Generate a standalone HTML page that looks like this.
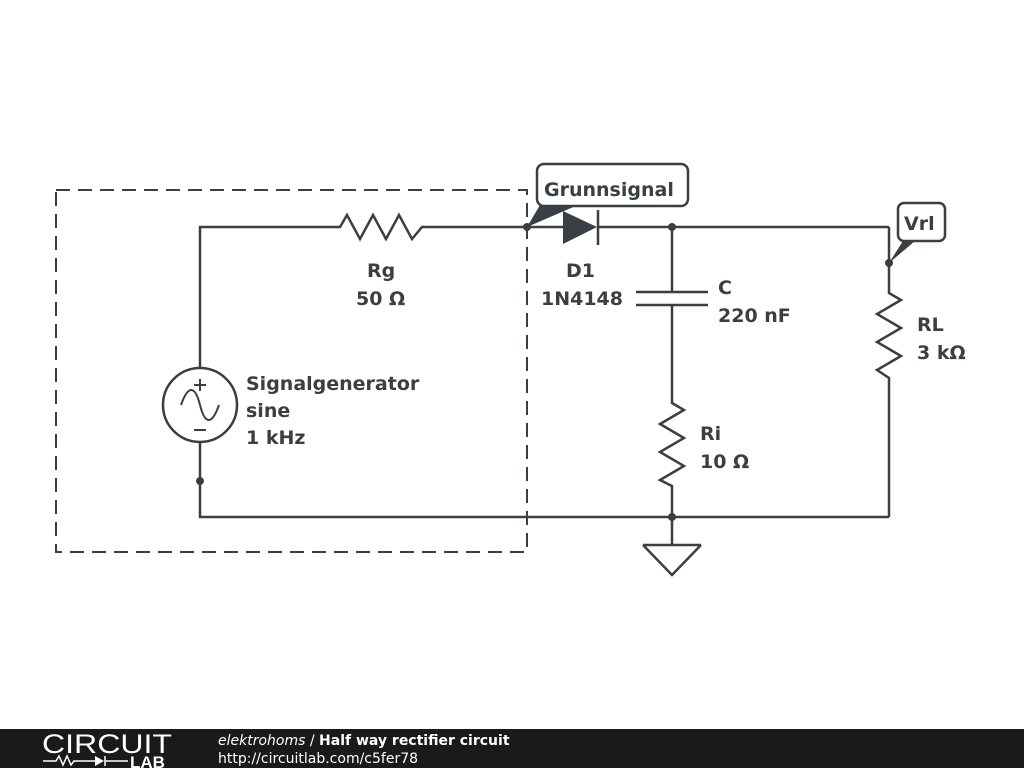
<!DOCTYPE html>
<html><head><meta charset="utf-8"><style>
body{margin:0;width:1024px;height:768px;background:#fff;overflow:hidden;font-family:"DejaVu Sans","Liberation Sans",sans-serif}
</style></head><body>
<svg width="1024" height="768" viewBox="0 0 1024 768" xmlns="http://www.w3.org/2000/svg">
<g stroke="#3a3f44" stroke-width="2.5" fill="none" stroke-linejoin="miter">
<rect x="56" y="190" width="471" height="362" stroke-dasharray="14,8" stroke-width="2"/>
<polyline points="200,368 200,227 340,227 347,215 360,239 373,215 386,239 399,215 412,239 422,227 563,227"/>
<line x1="598" y1="227" x2="889" y2="227"/>
<line x1="598" y1="210" x2="598" y2="245"/>
<polyline points="200,442 200,517 889,517"/>
<polyline points="889,227 889,293 901,300 877,314 901,328 877,342 901,356 877,370 889,378 889,517"/>
<line x1="672" y1="227" x2="672" y2="292"/>
<line x1="636" y1="292" x2="708" y2="292"/>
<line x1="636" y1="305" x2="708" y2="305"/>
<polyline points="672,305 672,403 684,410 660,424 684,438 660,452 684,466 660,480 672,486 672,545"/>
<line x1="643" y1="545" x2="701" y2="545"/>
<polyline points="643,545 672,575 701,545"/>
<circle cx="200" cy="405" r="37"/>
<path d="M181,405 C188,385 195,385 200,405 C205,425 212,425 219,405" stroke-width="2"/>
<line x1="194" y1="385" x2="206" y2="385" stroke-width="2"/><line x1="200" y1="379" x2="200" y2="391" stroke-width="2"/>
<line x1="194" y1="430" x2="206" y2="430" stroke-width="2"/>
<rect x="537" y="164" width="151" height="42" rx="7"/>
<rect x="898" y="203" width="47" height="38" rx="6"/>
</g>
<g fill="#3a3f44">
<polygon points="563,211 597,227 563,244"/>
<polygon points="527,227 540,205 578,205"/>
<polygon points="889,263 903,241 915,241"/>
<circle cx="527" cy="227" r="4"/><circle cx="672" cy="227" r="4"/><circle cx="889" cy="263" r="4"/>
<circle cx="200" cy="481" r="4"/><circle cx="672" cy="517" r="4"/>
</g>
<g fill="#3a3f44" font-weight="bold" font-size="19">
<text x="544" y="196">Grunnsignal</text>
<text x="904" y="230">Vrl</text>
<text x="367" y="277">Rg</text><text x="356" y="305">50 Ω</text>
<text x="566" y="277">D1</text><text x="541" y="305">1N4148</text>
<text x="718" y="294">C</text><text x="718" y="322">220 nF</text>
<text x="917" y="331">RL</text><text x="917" y="359">3 kΩ</text>
<text x="700" y="440">Ri</text><text x="700" y="468">10 Ω</text>
<text x="246" y="390">Signalgenerator</text><text x="246" y="417">sine</text><text x="246" y="444">1 kHz</text>
</g>
<rect x="0" y="729" width="1024" height="39" fill="#1a1a1a"/>
<text x="42" y="753" fill="#fff" font-size="27" font-family="Liberation Sans" textLength="130" lengthAdjust="spacingAndGlyphs">CIRCUIT</text>
<text x="130" y="768" fill="#fff" font-size="17" font-weight="bold" font-family="Liberation Sans">LAB</text>
<polyline points="43,761 56,761 59,756 63,765 67,756 71,765 74,761 95,761" stroke="#fff" stroke-width="1.5" fill="none"/>
<polygon points="95,756 104,761 95,766" fill="#fff"/><line x1="105" y1="756" x2="105" y2="766" stroke="#fff" stroke-width="1.5"/><line x1="105" y1="761" x2="128" y2="761" stroke="#fff" stroke-width="1.5"/>
<text x="218" y="745" fill="#fff" font-size="14"><tspan font-style="italic">elektrohoms</tspan> / <tspan font-weight="bold">Half way rectifier circuit</tspan></text>
<text x="218" y="763" fill="#fff" font-size="14">http://circuitlab.com/c5fer78</text>
</svg>
</body></html>
